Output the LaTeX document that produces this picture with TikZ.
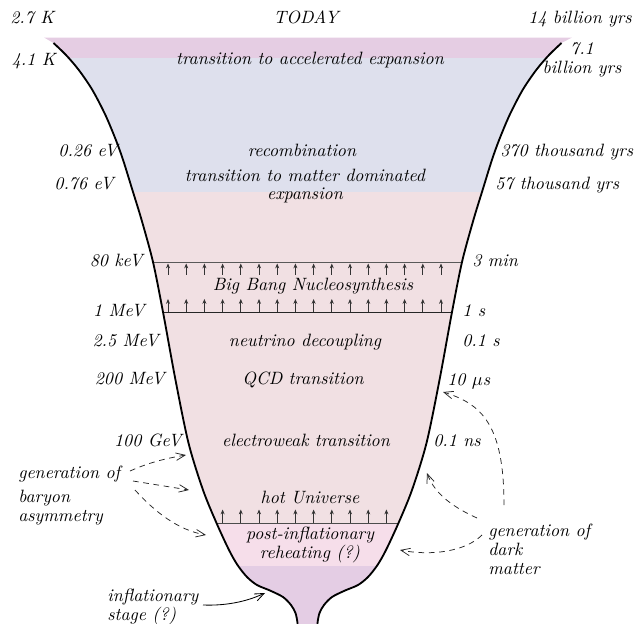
\documentclass[tikz,border=0pt]{standalone}
\usetikzlibrary{arrows.meta}
\definecolor{topc}{RGB}{229,205,227}
\definecolor{bluec}{RGB}{222,224,237}
\definecolor{pinkc}{RGB}{241,224,227}
\definecolor{rosec}{RGB}{246,222,234}
\definecolor{botc}{RGB}{228,205,228}
\begin{document}
\begin{tikzpicture}[x=0.6pt,y=-0.6pt,
  every node/.style={font=\fontsize{10.7}{11.2}\selectfont\itshape, inner sep=0pt},
  lft/.style={anchor=mid east},
  rgt/.style={anchor=mid west},
  ctr/.style={anchor=mid},
  funnel/.style={line width=1.1pt, black},
  bandline/.style={line width=0.6pt},
  uparrow/.style={line width=0.45pt, black!80, -{Stealth[length=2.9pt,width=2.4pt]}},
  dasharrow/.style={line width=0.45pt, black!85, dash pattern=on 3.4pt off 2.8pt, -{Straight Barb[length=5.5pt,width=4.5pt]}},
  solidarrow/.style={line width=0.5pt, black, -{Straight Barb[length=5.5pt,width=4.5pt]}}]
\useasboundingbox (0,0) rectangle (634,623);

\begin{scope}
\clip (44,37.5) -- plot[smooth, tension=0.5] coordinates {(53.5,43) (66,55) (78.8,70) (92.4,90) (105.4,115) (115.9,140) (123.1,160) (132.4,190) (141.6,220) (153,262) (163,312) (175.5,380) (188.5,443) (203,490) (216.5,523) (229,550) (237.5,565) (247,577) (257,585) (270,590.5) (283,597) (291,605) (295.5,613) (297.5,623) (297.5,630)}
 -- plot[smooth, tension=0.5] coordinates {(317.5,630) (317.5,623) (319.5,613) (324,605) (332,597) (345,590.5) (358,585) (368,577) (377.5,565) (386,550) (398.5,523) (412,490) (426.5,443) (439.5,380) (452,312) (462,262) (473.4,220) (482.6,190) (491.9,160) (499.1,140) (509.6,115) (522.6,90) (536.2,70) (549,55) (561.5,43)}
 -- (572,37.5) -- cycle;
\fill[topc] (0,30) rectangle (634,58);
\fill[bluec] (0,58) rectangle (634,192);
\fill[pinkc] (0,192) rectangle (634,523);
\fill[rosec] (0,523) rectangle (634,566);
\fill[botc] (0,566) rectangle (634,640);
\end{scope}

% band lines
\coordinate (l80a) at (153,262.5); \coordinate (l80b) at (462,262.5);
\coordinate (l1a) at (163,312); \coordinate (l1b) at (452,312);
\coordinate (lha) at (216.5,523); \coordinate (lhb) at (398.5,523);
\draw[bandline, black!65] (l80a) -- (l80b);
\draw[bandline, black!85] (l1a) -- (l1b);
\draw[bandline, black!70] (lha) -- (lhb);

\foreach \i in {0,...,15} {
  \draw[uparrow] (168+18.2*\i,274.5) -- (168+18.2*\i,263.5);
  \draw[uparrow] (168+18.2*\i,312) -- (168+18.2*\i,299);
}
\foreach \i in {3,...,12} {
  \draw[uparrow] (168+18.2*\i,523) -- (168+18.2*\i,509.5);
}

% funnel outline
\draw[funnel] plot[smooth, tension=0.5] coordinates {(53.5,43) (66,55) (78.8,70) (92.4,90) (105.4,115) (115.9,140) (123.1,160) (132.4,190) (141.6,220) (153,262) (163,312) (175.5,380) (188.5,443) (203,490) (216.5,523) (229,550) (237.5,565) (247,577) (257,585) (270,590.5) (283,597) (291,605) (295.5,613) (297.5,623) (297.5,630)};
\draw[funnel] plot[smooth, tension=0.5] coordinates {(317.5,630) (317.5,623) (319.5,613) (324,605) (332,597) (345,590.5) (358,585) (368,577) (377.5,565) (386,550) (398.5,523) (412,490) (426.5,443) (439.5,380) (452,312) (462,262) (473.4,220) (482.6,190) (491.9,160) (499.1,140) (509.6,115) (522.6,90) (536.2,70) (549,55) (561.5,43)};

% texts
\node[ctr] (today) at (306,20) {TODAY};
\node[anchor=mid west] (t27) at (10,20) {2.7 K};
\node[anchor=mid east] (t14) at (632,20) {14 billion yrs};
\node[ctr] (accel) at (310,61) {transition to accelerated expansion};
\node[anchor=mid east] (t41) at (56,62) {4.1 K};
\node[align=center] (t71) at (582,60) {7.1\\billion yrs};
\node[ctr] (recomb) at (302,153) {recombination};
\node[lft] (t026) at (118,153) {0.26 eV};
\node[rgt] (t370) at (500,153) {370 thousand yrs};
\node[align=center] (matter) at (305,186) {transition to matter dominated\\expansion};
\node[lft] (t076) at (114,186) {0.76 eV};
\node[rgt] (t57) at (495,186) {57 thousand yrs};
\node[lft] (t80) at (143,263) {80 keV};
\node[rgt] (t3) at (472,263) {3 min};
\node[ctr] (bbn) at (313,287) {Big Bang Nucleosynthesis};
\node[lft] (t1m) at (145,313) {1 MeV};
\node[rgt] (t1s) at (462,313) {1 s};
\node[lft] (t25) at (159,343) {2.5 MeV};
\node[ctr] (nu) at (305,343) {neutrino decoupling};
\node[rgt] (t01s) at (462,343) {0.1 s};
\node[lft] (t200) at (165,381) {200 MeV};
\node[ctr] (qcd) at (303,381) {QCD transition};
\node[rgt] (t10) at (447,382) {10 $\mu$s};
\node[lft] (t100) at (182,443) {100 GeV};
\node[ctr] (ew) at (306,443) {electroweak transition};
\node[rgt] (t01ns) at (433,443) {0.1 ns};
\node[ctr] (hot) at (310,500) {hot Universe};
\node[align=center] (reheat) at (310,545) {post-inflationary\\reheating (?)};
\node[align=left, anchor=north west] (bary) at (18,466) {generation of\\[3pt]baryon\\asymmetry};
\node[align=left, anchor=north west] (dm) at (488,524) {generation of\\dark\\matter};
\node[align=left, anchor=north west] (infl) at (107,589) {inflationary\\stage (?)};

% connectors
\coordinate (b1s) at (130,471); \coordinate (b1e) at (186,455);
\coordinate (b2s) at (133,481); \coordinate (b2e) at (189,490);
\coordinate (b3s) at (135,490); \coordinate (b3e) at (206,535);
\draw[dasharrow] (b1s) .. controls (150,462) and (168,458) .. (b1e);
\draw[dasharrow] (b2s) -- (b2e);
\draw[dasharrow] (b3s) .. controls (155,512) and (178,530) .. (b3e);
\coordinate (d1s) at (504,505); \coordinate (d1e) at (443,392);
\coordinate (d2s) at (477,518); \coordinate (d2e) at (427,473);
\coordinate (d3s) at (482,535); \coordinate (d3e) at (400,550);
\draw[dasharrow] (d1s) .. controls (504,425) and (482,404) .. (d1e);
\draw[dasharrow] (d2s) .. controls (455,508) and (435,495) .. (d2e);
\draw[dasharrow] (d3s) .. controls (465,552) and (430,556) .. (d3e);
\coordinate (is) at (203,605); \coordinate (ie) at (265,593);
\draw[solidarrow] (is) .. controls (230,606) and (250,600) .. (ie);
\end{tikzpicture}
\end{document}
